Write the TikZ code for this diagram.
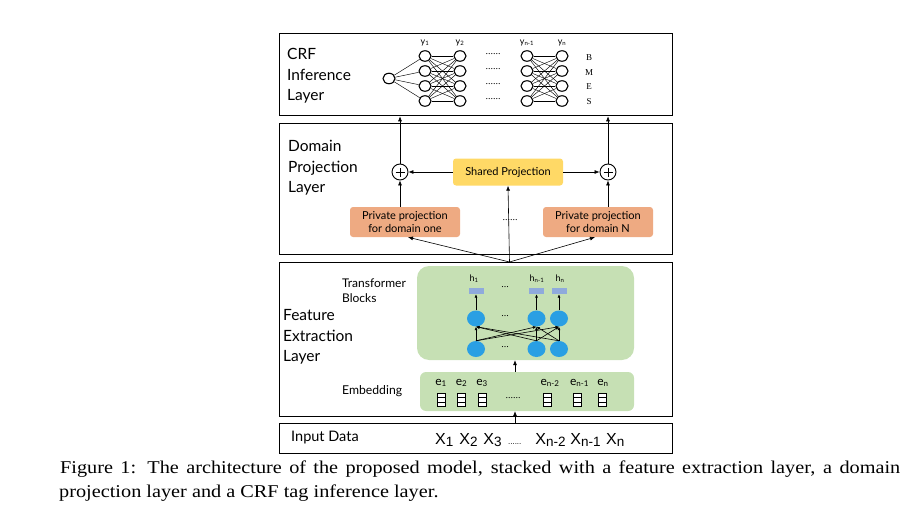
\documentclass[tikz,border=0pt]{standalone}
\usepackage{graphicx}
\usepackage{fontspec}
\setmainfont{Liberation Serif}
\setsansfont{Lato}
\newfontfamily\helv{Liberation Sans}
\usetikzlibrary{arrows.meta,shapes.geometric}
\definecolor{sharedc}{HTML}{FFD966}
\definecolor{privc}{HTML}{EEAA82}
\definecolor{greenc}{HTML}{C6E0B4}
\definecolor{bluec}{HTML}{2A9FE3}
\definecolor{rectc}{HTML}{8FAADC}
\newcommand{\xsub}[1]{\raisebox{-2.8pt}{\fontsize{13.5}{13.5}\selectfont #1}}
\begin{document}
\begin{tikzpicture}[x=1pt,y=-1pt,
  layerbox/.style={draw=black, line width=1.3pt, inner sep=0, anchor=north west},
  laytext/.style={font=\sffamily\fontsize{15.5}{20.5}\selectfont, align=left, anchor=west, inner sep=0},
  crfnode/.style={ellipse, draw, line width=1.1pt, minimum width=12pt, minimum height=10.5pt, inner sep=0, fill=white},
  lat/.style={line width=0.45pt},
  small/.style={font=\sffamily\fontsize{9}{9}\selectfont, inner sep=0},
  bmes/.style={font=\rmfamily\fontsize{9}{9}\selectfont, inner sep=0},
  dots/.style={font=\rmfamily\fontsize{10}{10}\selectfont, inner sep=0},
  arr/.style={-{Latex[length=5pt,width=4pt]}, line width=0.6pt},
  arrs/.style={-{Latex[length=3.5pt,width=3pt]}, line width=0.6pt},
  oplus/.style={circle, draw, line width=0.9pt, minimum size=16pt, inner sep=0, fill=white},
  projbox/.style={rounded corners=3pt, inner sep=0, align=center, font=\sffamily\fontsize{11}{13.5}\selectfont},
  greenbox/.style={fill=greenc, rounded corners=12pt, inner sep=0},
  blue/.style={ellipse, fill=bluec, minimum width=18pt, minimum height=16pt, inner sep=0},
  hrect/.style={fill=rectc, minimum width=15pt, minimum height=6pt, inner sep=0},
  elab/.style={font=\sffamily\fontsize{12}{12}\selectfont, inner sep=0},
  captext/.style={anchor=base west, inner sep=0, font=\rmfamily\fontsize{18}{18}\selectfont},
]
\useasboundingbox (0,0) rectangle (910,524);
% layer boxes
\node[layerbox, minimum width=393pt, minimum height=82pt] (crf) at (279,33) {};
\node[layerbox, minimum width=393pt, minimum height=131pt] (dom) at (279,123) {};
\node[layerbox, minimum width=393pt, minimum height=154.5pt] (fea) at (279,261.5) {};
\node[layerbox, minimum width=393pt, minimum height=30.5pt] (inp) at (279,422.5) {};
% layer titles
\node[laytext] (tcrf) at (287,76) {CRF\\Inference\\Layer};
\node[laytext] (tdom) at (288,168) {Domain\\Projection\\Layer};
\node[laytext] (tfea) at (283,337) {Feature\\Extraction\\Layer};
\node[font=\sffamily\fontsize{14.5}{14.5}\selectfont, anchor=west, inner sep=0] (tinp) at (291,438) {Input Data};

% ---- CRF lattice
\node[crfnode] (s0) at (389,78.5) {};
\foreach \i/\yy in {1/56,2/71,3/86,4/101} {
  \node[crfnode] (a\i) at (425,\yy) {};
  \node[crfnode] (b\i) at (460,\yy) {};
  \node[crfnode] (c\i) at (527,\yy) {};
  \node[crfnode] (d\i) at (562,\yy) {};
  \node[dots] (dd\i) at (493,\yy-1.5) {......};
}
\foreach \i in {1,...,4} {
  \draw[lat] (s0) -- (a\i);
  \foreach \j in {1,...,4} {
    \draw[lat] (a\i) -- (b\j);
    \draw[lat] (c\i) -- (d\j);
  }
}
\node[small] (ly1) at (425,43) {y\textsubscript{1}};
\node[small] (ly2) at (460,43) {y\textsubscript{2}};
\node[small] (lyn1) at (527,43) {y\textsubscript{n-1}};
\node[small] (lyn) at (562,43) {y\textsubscript{n}};
\node[bmes] (lb) at (589,58) {B};
\node[bmes] (lm) at (589,72.5) {M};
\node[bmes] (le) at (589,87) {E};
\node[bmes] (ls) at (589,101.5) {S};

% ---- Domain projection
\node[oplus] (pl) at (400,172) {};
\node[oplus] (pr) at (608,172) {};
\foreach \p in {pl,pr} {
  \draw[line width=0.8pt] ([xshift=-4.5pt]\p.center) -- ([xshift=4.5pt]\p.center);
  \draw[line width=0.8pt] ([yshift=-4.5pt]\p.center) -- ([yshift=4.5pt]\p.center);
}
\node[projbox, fill=sharedc, minimum width=110pt, minimum height=27pt] (sh) at (508,172) {Shared Projection};
\node[projbox, fill=privc, minimum width=110pt, minimum height=30pt] (p1) at (405,222) {Private projection\\for domain one};
\node[projbox, fill=privc, minimum width=110pt, minimum height=30pt] (pn) at (598,222) {Private projection\\for domain N};
\node[dots] (pdots) at (510,220) {......};
\draw[arr] (sh.west) -- (pl);
\draw[arr] (sh.east) -- (pr);
\draw[arr] (p1.north -| pl) -- (pl);
\draw[arr] (pn.north -| pr) -- (pr);
\draw[arr] (pl) -- (pl |- crf.south);
\draw[arr] (pr) -- (pr |- crf.south);
\coordinate (jn) at (509.5,262);
\draw[arr] (jn) -- ([xshift=3pt]p1.south);
\draw[arr] (jn) -- (sh.south);
\draw[arr] (jn) -- ([xshift=-3pt]pn.south);

% ---- Feature extraction
\node[greenbox, minimum width=217pt, minimum height=94pt] (tb) at (525.5,313) {};
\node[greenbox, rounded corners=6pt, minimum width=214pt, minimum height=39pt] (emb) at (527,391.5) {};
\node[font=\sffamily\fontsize{12}{15}\selectfont, align=left, anchor=west, inner sep=0] (ttb) at (342,290.5) {Transformer\\Blocks};
\node[font=\sffamily\fontsize{12.2}{12.2}\selectfont, anchor=west, inner sep=0] (temb) at (342,391) {Embedding};
\foreach \n/\x in {1/476,2/536.5,3/559} {
  \node[hrect] (r\n) at (\x,291) {};
  \node[blue] (t\n) at (\x,318.5) {};
  \node[blue] (u\n) at (\x,349) {};
}
\node[small] (lh1) at (474,279) {h\textsubscript{1}};
\node[small] (lhn1) at (537,279) {h\textsubscript{n-1}};
\node[small] (lhn) at (560,279) {h\textsubscript{n}};
\node[dots] (hd1) at (505,287) {...};
\node[dots] (hd2) at (505,316) {...};
\node[dots] (hd3) at (505,347) {...};
\foreach \n in {1,2,3} {
  \draw[arrs] (t\n.north) -- (r\n.south);
  \foreach \m in {1,2,3} {
    \draw[arrs] (u\n.north) -- (t\m.south);
  }
}
\coordinate (ex) at (515,0);
\draw[arr] (emb.north -| ex) -- (tb.south -| ex);
\draw[arr] (inp.north -| ex) -- (emb.south -| ex);
% embedding labels and cells
\node[elab] (e1) at (441,383) {e\textsubscript{1}};
\node[elab] (e2) at (461.5,383) {e\textsubscript{2}};
\node[elab] (e3) at (482,383) {e\textsubscript{3}};
\node[elab] (en2) at (550,383) {e\textsubscript{n-2}};
\node[elab] (en1) at (579.5,383) {e\textsubscript{n-1}};
\node[elab] (en) at (603,383) {e\textsubscript{n}};
\foreach \x in {441,461,482,547,577,602} {
  \draw[line width=0.6pt, fill=white] (\x-3.8,393.5) rectangle (\x+3.8,406);
  \draw[line width=0.6pt] (\x-3.8,397.7) -- (\x+3.8,397.7);
  \draw[line width=0.6pt] (\x-3.8,401.8) -- (\x+3.8,401.8);
}
\node[dots] (edots) at (513,398) {......};
% input tokens
\node[font=\helv\fontsize{16}{16}\selectfont, anchor=base west, inner sep=0] (xs) at (435,444)
  {X\xsub{1}\hspace{1.5pt} X\xsub{2}\hspace{1.5pt} X\xsub{3}\hspace{2pt} {\fontsize{8}{8}\selectfont ......}\hspace{8pt} X\xsub{n-2}\hspace{0.5pt} X\xsub{n-1}\hspace{1pt} X\xsub{n}};

% caption
\node[captext] (cap1) at (60,473)
  {\scalebox{1.126}[1]{\makebox[746pt][s]{Figure 1: The architecture of the proposed model, stacked with a feature extraction layer, a domain}}};
\node[captext] (cap2) at (59,497)
  {\scalebox{1.126}[1]{projection layer and a CRF tag inference layer.}};
\end{tikzpicture}
\end{document}
